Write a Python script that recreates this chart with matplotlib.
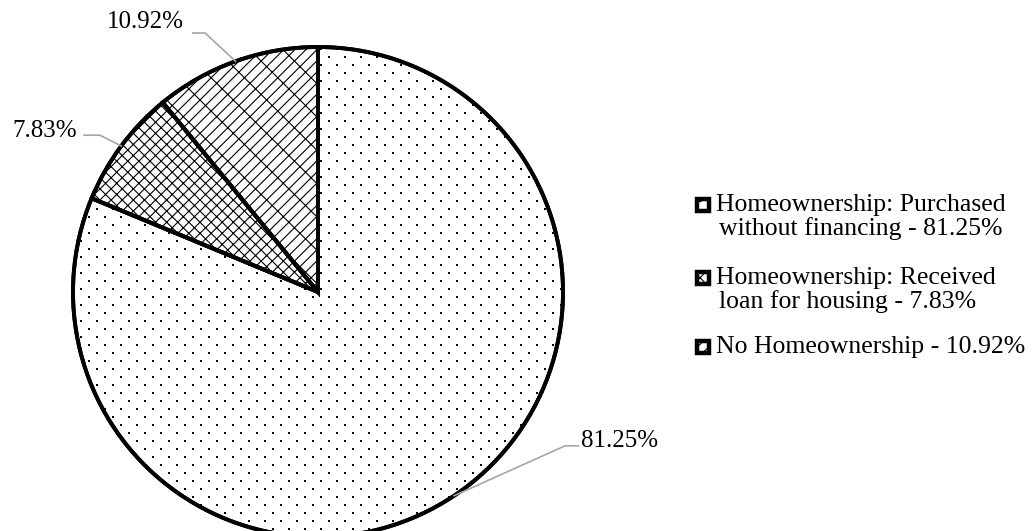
import matplotlib
matplotlib.use("Agg")
import matplotlib.pyplot as plt
from matplotlib.patches import Rectangle, Wedge
import numpy as np

plt.rcParams["font.family"] = ["Liberation Serif", "DejaVu Serif"]
plt.rcParams["hatch.linewidth"] = 0.8

# slice data, clockwise from 12 o'clock
categories = ["Homeownership: Purchased\nwithout financing",
              "Homeownership: Received\nloan for housing",
              "No Homeownership"]
shares = [81.25, 7.83, 10.92]
hatches = ["", "xxx", "///\\"]
legend_hatches = [".", "xxx", "///\\"]

W, H = 1035, 531
fig = plt.figure(figsize=(W / 100, H / 100), dpi=100)
fig.patch.set_facecolor("white")

# pie centre at (318, 292) px, radius 245 px
R_PX = 245
ax = fig.add_axes([73 / W, (H - 292 - R_PX) / H, 2 * R_PX / W, 2 * R_PX / H])
wedges, _ = ax.pie(shares, startangle=90, counterclock=False, radius=1,
                   colors=["white"] * len(shares),
                   wedgeprops=dict(edgecolor="black", linewidth=2.8))
for w, h in zip(wedges, hatches):
    w.set_hatch(h)
    w.set_clip_on(False)
    w.set_zorder(1)
ax.set_xlim(-1, 1)
ax.set_ylim(-1, 1)
ax.set_aspect("equal")
ax.axis("off")

# sparse dotted fill for the large slice: staggered rows, 16 px apart
# within a row, 8 px between rows
step = 16 / R_PX
gx, gy = np.meshgrid(np.arange(-1, 1 + step, step),
                     np.arange(-1, 1 + step, step / 2))
gx = gx + (np.arange(gx.shape[0])[:, None] % 2) * step / 2
dots = ax.scatter(gx.ravel(), gy.ravel(), s=2.6, marker="s", color="black",
                  linewidths=0, zorder=1.5)
dots.set_clip_path(wedges[0])

# outlines again on top of the dots
for w in wedges:
    ax.add_patch(Wedge(w.center, w.r, w.theta1, w.theta2, facecolor="none",
                       edgecolor="black", linewidth=2.8, zorder=2,
                       clip_on=False))

# data labels with elbow leader lines:
# (elbow x, line end x, line y, text x, text y, ha)
label_pos = [
    (1.008, 1.063, -0.628, 1.075, -0.61, "left"),
    (-0.89, -0.955, 0.64, -0.985, 0.657, "right"),
    (-0.461, -0.511, 1.057, -0.548, 1.10, "right"),
]
for w, v, (kx, lx, ky, tx, ty, ha) in zip(wedges, shares, label_pos):
    mid = np.deg2rad((w.theta1 + w.theta2) / 2)
    ex, ey = np.cos(mid), np.sin(mid)
    ax.plot([ex, kx, lx], [ey, ky, ky], color="#a6a6a6", lw=1.2,
            clip_on=False, zorder=3)
    ax.text(tx, ty, f"{v:.2f}%", ha=ha, va="center", fontsize=18,
            clip_on=False)

# legend on the right
legend_y = [205, 278, 347]
for lab, v, h, y in zip(categories, shares, legend_hatches, legend_y):
    fig.patches.append(Rectangle((697 / W, 1 - (y + 5.75) / H), 11.5 / W,
                                 11.5 / H, transform=fig.transFigure,
                                 facecolor="white", edgecolor="black",
                                 linewidth=3.2, hatch=h))
    lines = f"{lab} - {v:.2f}%".split("\n")
    for k, line in enumerate(lines):
        fig.text((716 if k == 0 else 719) / W, 1 - (y + 24 * k) / H, line,
                 ha="left", va="center", fontsize=18.5)

fig.savefig("out.png", dpi=100, facecolor="white")
